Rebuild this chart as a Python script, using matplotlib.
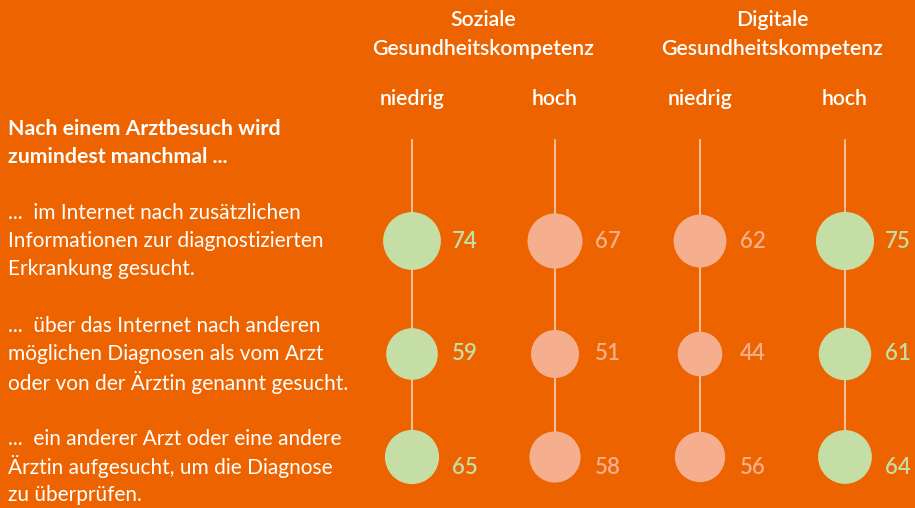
import numpy as np
import matplotlib.pyplot as plt

plt.rcParams['font.family'] = ['Lato', 'DejaVu Sans']

# data
groups = [['Soziale', 'Gesundheitskompetenz'], ['Digitale', 'Gesundheitskompetenz']]
levels = ['niedrig', 'hoch', 'niedrig', 'hoch']
header = ['Nach einem Arztbesuch wird', 'zumindest manchmal ...']
items = [
    ['...  im Internet nach zusätzlichen', 'Informationen zur diagnostizierten',
     'Erkrankung gesucht.'],
    ['...  über das Internet nach anderen', 'möglichen Diagnosen als vom Arzt',
     'oder von der Ärztin genannt gesucht.'],
    ['...  ein anderer Arzt oder eine andere', 'Ärztin aufgesucht, um die Diagnose',
     'zu überprüfen.'],
]
# rows = items, columns = soz. niedrig, soz. hoch, dig. niedrig, dig. hoch
values = np.array([
    [74, 67, 62, 75],
    [59, 51, 44, 61],
    [65, 58, 56, 64],
])
high = np.array([
    [True, False, False, True],
    [True, False, False, True],
    [True, False, False, True],
])

bg = '#EC6300'
green = '#C5DEA6'
pink = '#F5AF8E'
line_col = '#F8D3B8'

fig = plt.figure(figsize=(9.15, 5.08), dpi=100, facecolor=bg)
ax = fig.add_axes([0, 0, 1, 1])
ax.set_facecolor(bg)
ax.set_xlim(0, 915)
ax.set_ylim(508, 0)
ax.axis('off')

col_x = np.array([412, 555, 700, 845])
row_y = np.array([241, 354, 457])
text_y = np.array([241, 354, 467])
step = 28

# group titles
for i, g in enumerate(groups):
    cx = (col_x[2 * i] + col_x[2 * i + 1]) / 2
    for k, line in enumerate(g):
        ax.text(cx, 20 + 29 * k, line, ha='center', va='center', color='white',
                fontsize=15.3, fontweight='semibold')
for x, lv in zip(col_x, levels):
    ax.text(x, 99, lv, ha='center', va='center', color='white', fontsize=15.3,
            fontweight='semibold')

# left texts
for k, line in enumerate(header):
    ax.text(8, 129 + step * k, line, ha='left', va='center', color='white',
            fontsize=15.3, fontweight='bold')
for y, t in zip(text_y, items):
    for k, line in enumerate(t):
        ax.text(8, y + step * (k - 1), line, ha='left', va='center',
                color='white', fontsize=15)

# vertical lines
for x in col_x:
    ax.plot([x, x], [140, row_y[-1]], color=line_col, lw=1.2, zorder=1)

# circles: area proportional to value
for r in range(len(row_y)):
    for c in range(len(col_x)):
        v = values[r, c]
        col = green if high[r, c] else pink
        d = 6.72 * np.sqrt(v)  # diameter in px
        ax.scatter(col_x[c], row_y[r], s=(d * 0.72) ** 2, color=col,
                   edgecolor='none', zorder=3)
        ax.text(col_x[c] + 40, text_y[r], str(v), ha='left',
                va='center', color=col, fontsize=16, fontweight='semibold')

fig.savefig('out.png', dpi=100, facecolor=bg)
